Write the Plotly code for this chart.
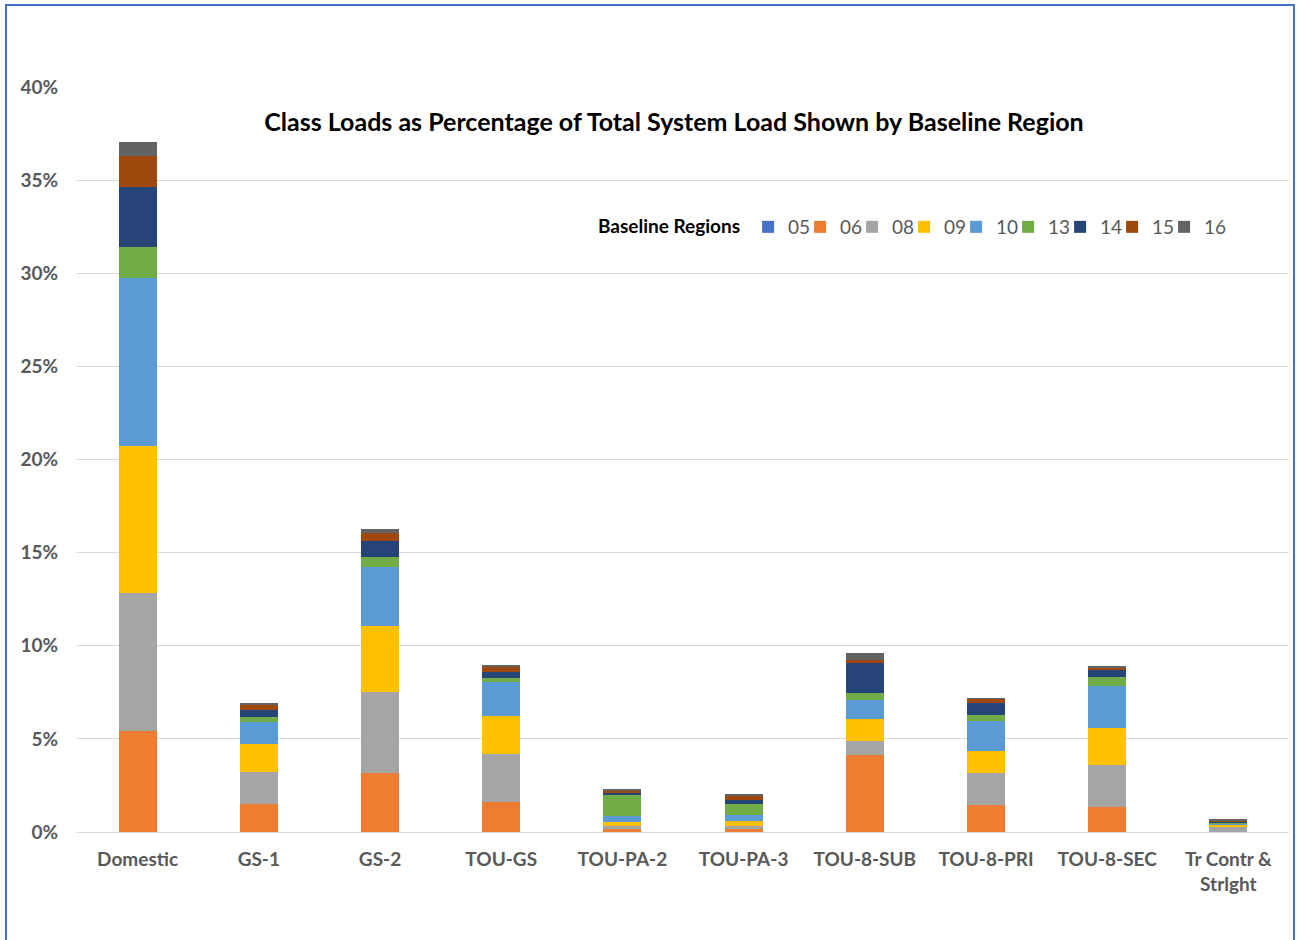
import plotly.graph_objects as go

# Rate classes on the category axis
classes = ["Domestic", "GS-1", "GS-2", "TOU-GS", "TOU-PA-2", "TOU-PA-3",
           "TOU-8-SUB", "TOU-8-PRI", "TOU-8-SEC", "Tr Contr &<br>Strlght"]

# Baseline region codes, stacked bottom to top
regions = ["05", "06", "08", "09", "10", "13", "14", "15", "16"]

# Share of total system load (%) per region, one value per class
r05 = [0.00, 0.00, 0.00, 0.00, 0.00, 0.00, 0.00, 0.00, 0.00, 0.00]
r06 = [5.42, 1.49, 3.17, 1.61, 0.16, 0.14, 4.12, 1.45, 1.36, 0.02]
r08 = [7.41, 1.73, 4.37, 2.58, 0.14, 0.19, 0.78, 1.72, 2.26, 0.25]
r09 = [7.89, 1.49, 3.53, 2.02, 0.23, 0.24, 1.18, 1.17, 1.97, 0.14]
r10 = [9.02, 1.21, 3.17, 1.84, 0.34, 0.32, 1.00, 1.63, 2.26, 0.07]
r13 = [1.67, 0.24, 0.55, 0.20, 1.11, 0.62, 0.41, 0.32, 0.48, 0.01]
r14 = [3.22, 0.39, 0.83, 0.34, 0.14, 0.20, 1.61, 0.61, 0.38, 0.09]
r15 = [1.66, 0.27, 0.46, 0.25, 0.11, 0.27, 0.12, 0.25, 0.14, 0.02]
r16 = [0.75, 0.12, 0.21, 0.11, 0.07, 0.02, 0.39, 0.03, 0.05, 0.09]

series = [r05, r06, r08, r09, r10, r13, r14, r15, r16]
colors = ["#4472C4", "#ED7D31", "#A5A5A5", "#FFC000", "#5B9BD5",
          "#70AD47", "#264478", "#9E480E", "#636363"]

FONT = "Lato"
GREY = "#595959"

fig = go.Figure()
for name, vals, col in zip(regions, series, colors):
    fig.add_trace(go.Bar(
        x=classes, y=vals, name=name,
        marker=dict(color=col, line=dict(width=0)),
    ))

# transparent zero-height spacer entry so the compact legend keeps room
# for the text of the last region
fig.add_trace(go.Bar(
    x=[classes[0]], y=[0], name=" ", hoverinfo="skip",
    marker=dict(color="rgba(0,0,0,0)", line=dict(width=0)),
))

# plot area geometry (pixels)
L, R, T, B = 77, 8, 87, 108
W, H = 1297, 940
pw, ph = W - L - R, H - T - B

def px_x(px):
    return (px - L) / pw

def px_y(py):
    return (H - B - py) / ph

fig.update_layout(
    width=W, height=H,
    margin=dict(l=L, r=R, t=T, b=B, autoexpand=False),
    barmode="stack",
    bargap=0.686,
    plot_bgcolor="white",
    paper_bgcolor="white",
    font=dict(family=FONT, color=GREY),
    title=dict(
        text="<b>Class Loads as Percentage of Total System Load Shown by Baseline Region</b>",
        font=dict(family=FONT, size=25, color="black"),
        xref="paper", x=px_x(674), xanchor="center",
        yref="container", y=1 - 122 / H, yanchor="middle",
    ),
    legend=dict(
        orientation="h",
        title=dict(text="<b>Baseline Regions</b>", side="left",
                   font=dict(family=FONT, size=19, color="black")),
        font=dict(family=FONT, size=19, color=GREY),
        entrywidth=7, entrywidthmode="pixels",
        x=px_x(596), xanchor="left",
        y=px_y(227), yanchor="middle",
        bgcolor="rgba(0,0,0,0)",
        traceorder="normal",
        itemclick=False, itemdoubleclick=False,
    ),
    xaxis=dict(
        showgrid=False, showline=False, ticks="",
        tickfont=dict(family=FONT, size=19, color=GREY, weight="bold"),
        ticklabelstandoff=14,
    ),
    yaxis=dict(
        range=[0, 40], dtick=5, ticksuffix="%",
        showgrid=True, gridcolor="#D9D9D9", gridwidth=1,
        zeroline=True, zerolinecolor="#D9D9D9", zerolinewidth=1,
        showline=False, ticks="",
        tickfont=dict(family=FONT, size=19, color=GREY, weight="bold"),
        ticklabelstandoff=18,
    ),
    shapes=[dict(
        type="rect", xref="paper", yref="paper",
        x0=px_x(6), x1=px_x(1294), y0=px_y(960), y1=px_y(5),
        line=dict(color="#4472C4", width=2), fillcolor="rgba(0,0,0,0)",
        layer="below",
    )],
)

fig.write_html("out.html")
